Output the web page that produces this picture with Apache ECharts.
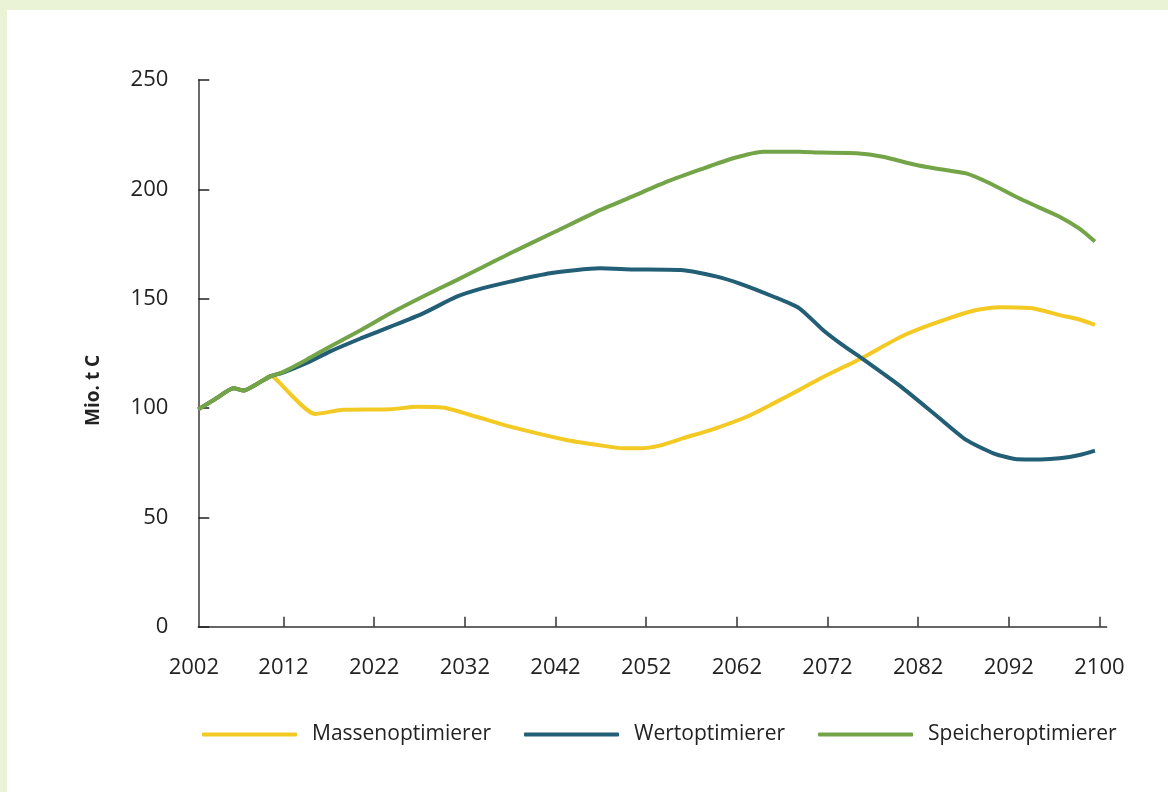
<!DOCTYPE html>
<html>
<head>
<meta charset="utf-8">
<script src="https://cdn.jsdelivr.net/npm/echarts@6/dist/echarts.min.js"></script>
<style>
  html, body { margin: 0; padding: 0; background: #eaf3d6; }
  #chart { position: absolute; left: 7px; top: 10px; width: 1161px; height: 782px; background: #fff; }
</style>
</head>
<body>
<div id="chart"></div>
<script>
// x position in axis units: one labelled tick every 10 units
var tickLabels = ['2002', '2012', '2022', '2032', '2042', '2052', '2062', '2072', '2082', '2092', '2100'];
var seriesNames = ['Massenoptimierer', 'Wertoptimierer', 'Speicheroptimierer'];
var seriesColors = ['#f3c923', '#225e75', '#74a448'];

// [x, Mio. t C]
var massen = [
  [0.6, 99.4], [2.5, 104.2], [4.5, 109.0], [5.6, 108.0], [7.2, 111.3], [8.6, 114.6],
  [9.0, 113.8], [13.5, 97.3], [16.6, 99.2], [21.8, 99.4], [24.7, 100.6], [27.6, 100.2],
  [31.3, 96.0], [35.0, 91.5], [41.2, 85.4], [44.5, 83.2], [47.5, 81.6], [49.3, 81.6],
  [51.5, 82.8], [54.1, 86.2], [57.5, 90.5], [61.1, 96.0], [64.0, 102.0], [66.9, 108.3],
  [69.2, 113.5], [73.8, 122.9], [78.1, 132.6], [82.0, 139.0], [86.4, 144.8], [89.0, 146.1],
  [92.6, 145.6], [95.6, 142.5], [97.5, 140.8], [99.5, 138.0]
];
var wert = [
  [0.6, 99.4], [2.5, 104.2], [4.5, 109.0], [5.6, 108.0], [7.2, 111.3], [8.6, 114.6],
  [9.8, 116.0], [12.5, 120.5], [15.1, 125.8], [18.5, 131.8], [21.8, 137.2], [25.4, 143.3],
  [29.1, 150.9], [32.0, 154.8], [35.0, 157.8], [39.4, 161.6], [44.9, 163.9], [48.6, 163.4],
  [53.8, 163.1], [57.8, 160.1], [60.4, 156.8], [64.0, 151.0], [66.9, 145.6], [69.5, 135.7],
  [71.6, 129.0], [73.8, 122.7], [78.1, 109.8], [82.0, 96.6], [85.3, 85.4], [88.3, 79.3],
  [90.9, 76.6], [93.5, 76.5], [95.6, 77.0], [97.8, 78.5], [99.5, 80.5]
];
var speicher = [
  [0.6, 99.4], [2.5, 104.2], [4.5, 109.0], [5.6, 108.0], [7.2, 111.3], [8.6, 114.6],
  [9.8, 116.2], [12.5, 122.0], [15.1, 128.0], [18.5, 135.6], [21.8, 143.3], [25.5, 151.2],
  [29.1, 158.5], [32.0, 164.5], [35.0, 170.8], [40.0, 180.7], [44.9, 190.5], [48.5, 196.8],
  [52.3, 203.5], [56.0, 209.1], [59.6, 214.2], [62.9, 217.2], [66.9, 217.2], [69.2, 216.8],
  [73.2, 216.5], [76.1, 214.9], [79.8, 211.1], [83.0, 208.8], [85.3, 207.3], [87.9, 202.8],
  [90.8, 196.6], [93.2, 192.0], [95.6, 187.5], [97.8, 182.0], [99.5, 176.1]
];

var font = 'Open Sans';
var chart = echarts.init(document.getElementById('chart'));

function lineSeries(i, data) {
  return {
    name: seriesNames[i],
    type: 'line',
    data: data,
    showSymbol: false,
    smooth: 0.2,
    color: seriesColors[i],
    lineStyle: { width: 4, color: seriesColors[i] }
  };
}

chart.setOption({
  animation: false,
  backgroundColor: '#fff',
  textStyle: { fontFamily: font },
  grid: { left: 191.3, right: 61.3, top: 70, bottom: 165.3 },
  legend: {
    data: seriesNames,
    left: 190,
    top: 709,
    icon: 'roundRect',
    itemWidth: 95,
    itemHeight: 4,
    itemGap: 33,
    textStyle: { fontFamily: font, fontSize: 21, color: '#222', padding: [0, 0, 0, 10] }
  },
  xAxis: {
    type: 'value',
    min: 0.6,
    max: 100.8,
    splitLine: { show: false },
    axisLine: { lineStyle: { color: '#333', width: 1.5 } },
    axisTick: {
      inside: true,
      length: 10,
      customValues: [10, 20, 30, 40, 50, 60, 70, 80, 90, 100],
      lineStyle: { color: '#333', width: 1.5 }
    },
    axisLabel: {
      customValues: [0.6, 10, 20, 30, 40, 50, 60, 70, 80, 90, 100],
      margin: 30,
      fontFamily: font,
      fontSize: 22,
      color: '#222',
      formatter: function (v) {
        var i = Math.round(v / 10);
        return i === 0 ? '{first|' + tickLabels[0] + '}' : tickLabels[i];
      },
      rich: {
        first: { fontFamily: font, fontSize: 22, color: '#222', padding: [0, 9, 0, 0] }
      }
    }
  },
  yAxis: {
    type: 'value',
    min: 0,
    max: 250,
    interval: 50,
    name: 'Mio. t C',
    nameLocation: 'middle',
    nameGap: 95,
    nameTextStyle: {
      fontFamily: font, fontSize: 19, fontWeight: 'bold', color: '#222',
      padding: [0, 74, 0, 0]
    },
    splitLine: { show: false },
    axisLine: { show: true, lineStyle: { color: '#6b6b6b', width: 2 } },
    axisTick: { show: true, inside: true, length: 11, lineStyle: { color: '#222', width: 1.5 } },
    axisLabel: { margin: 30, fontFamily: font, fontSize: 22, color: '#222' }
  },
  series: [
    lineSeries(0, massen),
    lineSeries(1, wert),
    lineSeries(2, speicher)
  ]
});
</script>
</body>
</html>
